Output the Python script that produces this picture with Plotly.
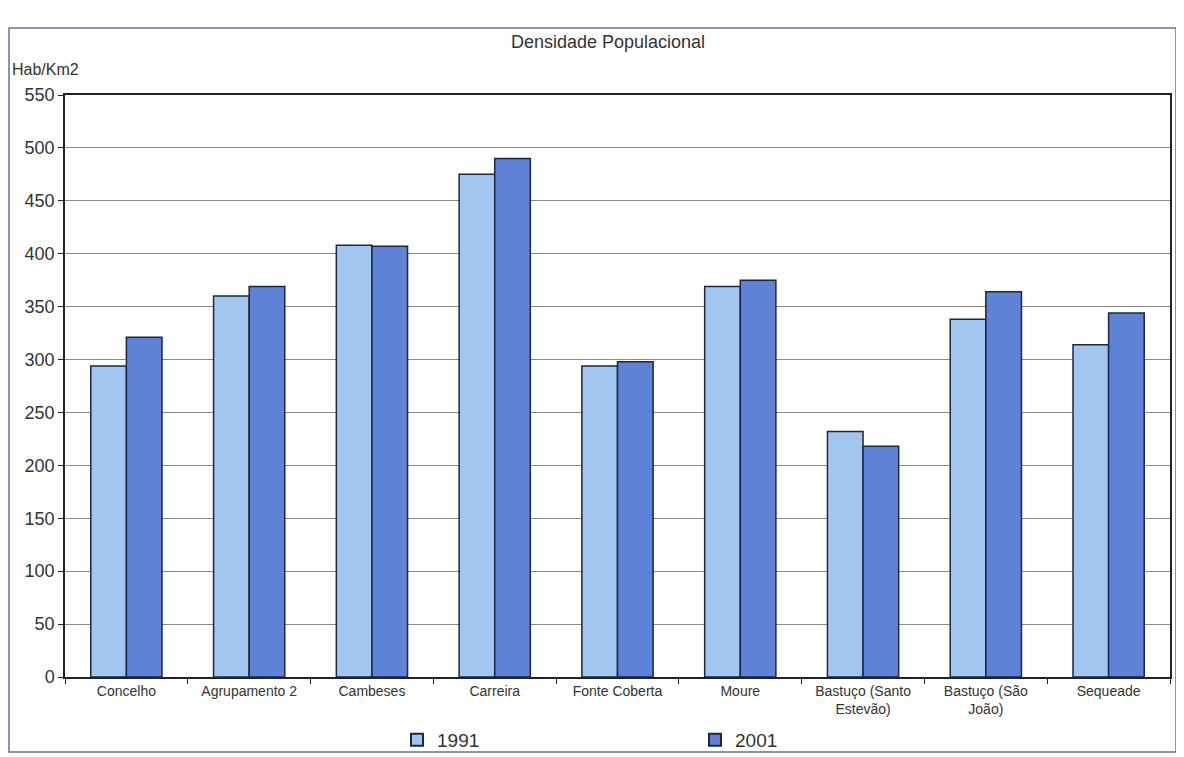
import plotly.graph_objects as go

categories = ["Concelho", "Agrupamento 2", "Cambeses", "Carreira", "Fonte Coberta",
              "Moure", "Bastuço (Santo Estevão)", "Bastuço (São João)", "Sequeade"]
tick_labels = ["Concelho", "Agrupamento 2", "Cambeses", "Carreira", "Fonte Coberta",
               "Moure", "Bastuço (Santo<br>Estevão)", "Bastuço (São<br>João)", "Sequeade"]
values_1991 = [294, 360, 408, 475, 294, 369, 232, 338, 314]
values_2001 = [321, 369, 407, 490, 298, 375, 218, 364, 344]
y_ticks = [0, 50, 100, 150, 200, 250, 300, 350, 400, 450, 500, 550]

# page body has an 8px margin; work in screen pixels and convert
OFF = 8
W, H = 1184 - OFF, 757 - OFF
L, R, T, B = 65 - OFF, 14, 95 - OFF, 80
pw, ph = W - L - R, H - T - B

def px_x(px):
    return (px - OFF - L) / pw

def px_y(py):
    return (H - B - (py - OFF)) / ph

def cont_y(py):
    return 1 - (py - OFF) / H

fig = go.Figure()
fig.add_trace(go.Bar(name="1991", x=categories, y=values_1991,
                     marker=dict(color="#A3C6F0", line=dict(color="#1C2740", width=1.5))))
fig.add_trace(go.Bar(name="2001", x=categories, y=values_2001,
                     marker=dict(color="#5D82D6", line=dict(color="#1C2740", width=1.5))))

fig.update_layout(
    width=W, height=H,
    margin=dict(l=L, r=R, t=T, b=B),
    paper_bgcolor="white", plot_bgcolor="white",
    barmode="group", bargap=0.42, bargroupgap=0.0,
    font=dict(family="Liberation Sans, Arial, sans-serif", color="#333333"),
    title=dict(text="Densidade Populacional", x=(608 - OFF) / W, xanchor="center",
               y=cont_y(42), yanchor="middle",
               font=dict(size=18, color="#333333")),
    showlegend=True,
    legend=dict(orientation="h", x=px_x(397), xanchor="left",
                yref="container", y=cont_y(740), yanchor="middle",
                entrywidth=253, entrywidthmode="pixels",
                font=dict(size=19, color="#333333"), itemsizing="constant",
                bgcolor="rgba(0,0,0,0)"),
    xaxis=dict(tickmode="array", tickvals=categories, ticktext=tick_labels,
               tickfont=dict(size=14, color="#333333"),
               showline=True, linecolor="#222222", linewidth=1.5, mirror=True,
               ticks="outside", tickson="boundaries", ticklen=5, tickcolor="#222222",
               showgrid=False, automargin=False),
    yaxis=dict(range=[0, 550], tickmode="array", tickvals=y_ticks,
               tickfont=dict(size=18, color="#333333"),
               showline=True, linecolor="#222222", linewidth=1.5, mirror=True,
               ticks="outside", ticklen=5, tickcolor="#222222",
               showgrid=True, gridcolor="#8a8a8a", gridwidth=1, zeroline=False,
               automargin=False),
    annotations=[dict(text="Hab/Km2", xref="paper", yref="paper",
                      x=px_x(10), y=px_y(70), xanchor="left", yanchor="middle",
                      showarrow=False, font=dict(size=16, color="#333333"))],
    shapes=[dict(type="rect", xref="paper", yref="paper",
                 x0=px_x(9), x1=px_x(1176), y0=px_y(752), y1=px_y(28),
                 line=dict(color="#6a6f9a", width=1.5), fillcolor="rgba(0,0,0,0)",
                 layer="below")],
)

fig.write_html("out.html")
